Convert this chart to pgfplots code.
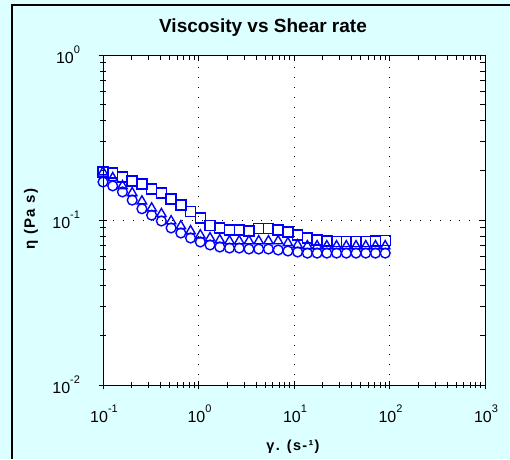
\documentclass[border=0pt]{standalone}
\usepackage{pgfplots}
\pgfplotsset{compat=1.18}
\usepackage{pgfplotstable}
\usepackage{fontspec}
\setmainfont{Liberation Sans}
\definecolor{panel}{RGB}{220,255,255}
\definecolor{markblue}{RGB}{0,0,255}

% shear rate (1/s) and viscosity (Pa s) of the three runs
\pgfplotstableread{
x      sq      tri     circ
0.1    0.195   0.195   0.170
0.1264 0.193   0.180   0.161
0.1599 0.182   0.161   0.148
0.2021 0.172   0.146   0.132
0.2556 0.165   0.130   0.117
0.3232 0.154   0.118   0.107
0.4087 0.146   0.109   0.0986
0.5168 0.134   0.0986  0.0895
0.6534 0.123   0.092   0.0834
0.8262 0.113   0.0858  0.0778
1.045  0.103   0.081   0.0736
1.321  0.093   0.0778  0.0706
1.670  0.0895  0.0757  0.0686
2.112  0.087   0.0746  0.0676
2.671  0.087   0.0746  0.0676
3.377  0.0859  0.0746  0.0667
4.270  0.0887  0.0746  0.0667
5.399  0.0887  0.0746  0.0667
6.827  0.087   0.0746  0.0658
8.632  0.0846  0.0726  0.0649
10.91  0.081   0.0706  0.064
13.80  0.0778  0.0696  0.063
17.45  0.0757  0.0696  0.063
22.06  0.0746  0.0696  0.063
27.90  0.0740  0.0696  0.063
35.27  0.0740  0.0696  0.063
44.60  0.0740  0.0696  0.063
56.40  0.0740  0.0696  0.063
71.31  0.0746  0.0696  0.063
90.18  0.0750  0.0696  0.063
}\viscdata

\newcommand\labelfont[1]{\bfseries\fontsize{#1}{#1}\selectfont\addfontfeatures{LetterSpace=9}}
% power of ten with a small raised exponent
\newcommand\pow[1]{10\raisebox{0.62em}{\fontsize{11}{11}\selectfont #1}}

\begin{document}
\begin{tikzpicture}[x=1pt,y=1pt]
  % panel background and frame
  \fill[panel] (0,0) rectangle (510,459);
  \draw[line width=1.6pt] (12,0) -- (12,454) -- (510,454);
  \fill[white] (103,74) rectangle (485,404);

  \node[font=\bfseries\fontsize{19}{19}\selectfont] at (263,431) {Viscosity vs Shear rate};
  \node[font=\labelfont{15}, rotate=90] at (31,240) {η (Pa s)};
  \node[font=\labelfont{14.5}] at (293,12) {γ. (s-¹)};

  \begin{axis}[
    at={(103pt,74pt)}, anchor=south west,
    scale only axis, width=382pt, height=330pt,
    xmode=log, ymode=log,
    xmin=0.1, xmax=1000, ymin=0.01, ymax=1,
    xtick={0.1,1,10,100,1000},
    xticklabels={\pow{-1},\pow{0},\pow{1},\pow{2},\pow{3}},
    ytick={0.01,0.1,1},
    yticklabels={\pow{-2},\pow{-1},\pow{0}},
    xtick pos=left, ytick pos=left,
    tick align=center,
    major tick length=9pt, minor tick length=6pt,
    tick style={black, line width=0.8pt},
    ticklabel style={font=\fontsize{16}{16}\selectfont},
    xticklabel style={yshift=-12pt, xshift=1pt},
    yticklabel style={xshift=-15pt},
    grid=major,
    major grid style={black, line width=0.9pt, dash pattern=on 0.9pt off 9pt},
    axis line style={black, line width=0.9pt},
    mark options={solid, line width=1.4pt},
  ]
    \addplot[markblue, only marks, mark=square, mark size=5pt] table[x=x, y=sq] {\viscdata};
    \addplot[markblue, only marks, mark=triangle, mark size=5.4pt] table[x=x, y=tri] {\viscdata};
    \addplot[markblue, only marks, mark=o, mark size=4.9pt] table[x=x, y=circ] {\viscdata};
  \end{axis}

  % inward ticks on the top and right edges
  \begin{axis}[
    at={(103pt,74pt)}, anchor=south west,
    scale only axis, width=382pt, height=330pt,
    xmode=log, ymode=log,
    xmin=0.1, xmax=1000, ymin=0.01, ymax=1,
    xtick={0.1,1,10,100,1000}, ytick={0.01,0.1,1},
    xticklabels={}, yticklabels={},
    xtick pos=right, ytick pos=right,
    tick align=inside,
    major tick length=6pt, minor tick length=5pt,
    tick style={black, line width=0.8pt},
    axis line style={black, line width=0.9pt},
  ]
  \end{axis}

  \pgfresetboundingbox
  \useasboundingbox (0,0) rectangle (510,459);
\end{tikzpicture}
\end{document}
